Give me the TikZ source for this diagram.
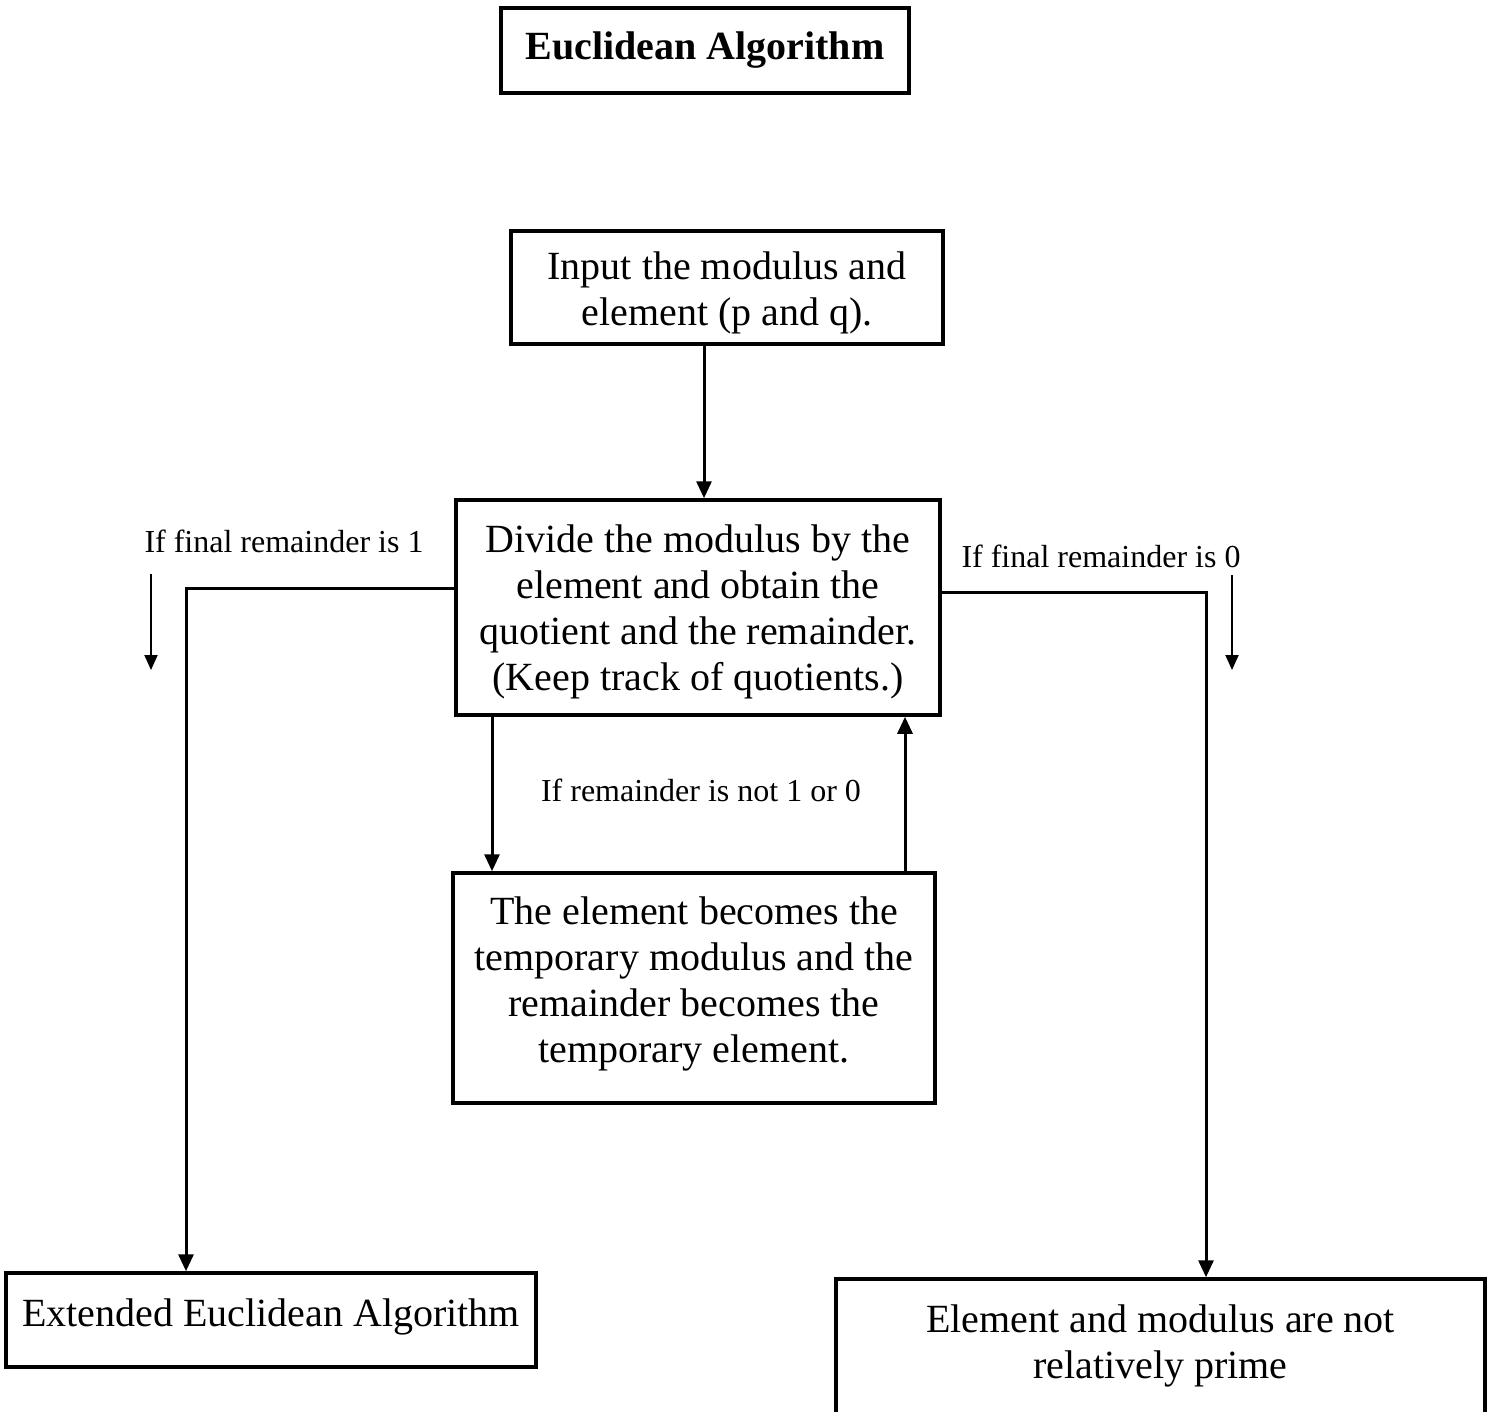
\documentclass[tikz,border=0pt]{standalone}
\usepackage{fontspec}
\setmainfont{Liberation Serif}
\usetikzlibrary{arrows.meta}
\tikzset{
  box/.style={draw, line width=3.5pt, rectangle, inner sep=0pt},
  big/.style={font=\fontsize{40}{46}\selectfont, align=center, inner sep=0pt},
  small/.style={font=\fontsize{32}{37}\selectfont, inner sep=0pt},
  conn/.style={line width=3pt, -{Triangle[width=15pt,length=17pt]}},
  hint/.style={line width=2pt, -{Triangle[width=13pt,length=15pt]}},
}
\begin{document}
\begin{tikzpicture}[x=1pt, y=-1pt]
\useasboundingbox (0,0) rectangle (1495,1412);
\node[box, minimum width=408pt, minimum height=85pt, font=\bfseries\fontsize{40}{46}\selectfont] (title) at (705,50.5) {Euclidean Algorithm};
\node[box, minimum width=432pt, minimum height=113pt] (inp) at (727,287.5) {};
\node[big] (inpt) at (727,292.5) {Input the modulus and\\element (p and q).};
\node[box, minimum width=484pt, minimum height=215pt] (div) at (698,607.5) {};
\node[big] (divt) at (698,611.5) {Divide the modulus by the\\element and obtain the\\quotient and the remainder.\\(Keep track of quotients.)};
\node[box, minimum width=482pt, minimum height=230pt] (tmp) at (694,988) {};
\node[big] (tmpt) at (694,984) {The element becomes the\\temporary modulus and the\\remainder becomes the\\temporary element.};
\node[box, minimum width=530pt, minimum height=94pt] (ext) at (271,1320) {};
\node[big] (extt) at (271,1317) {Extended Euclidean Algorithm};
\node[box, minimum width=649pt, minimum height=136pt] (rp) at (1160.5,1347) {};
\node[big] (rpt) at (1160.5,1346) {Element and modulus are not\\relatively prime};

\coordinate (c1) at (704,0);
\coordinate (xd) at (492,0);
\coordinate (xu) at (905,0);
\coordinate (lc) at (186,588);
\coordinate (rc) at (1206,592);
\draw[conn] (inp.south -| c1) -- (div.north -| c1);
\draw[conn] (div.south -| xd) -- (tmp.north -| xd);
\draw[conn] (tmp.north -| xu) -- (div.south -| xu);
\draw[conn] (div.west |- lc) -- (lc) -- (lc |- ext.north);
\draw[conn] (div.east |- rc) -- (rc) -- (rc |- rp.north);

\coordinate (h1a) at (151,574);
\coordinate (h1b) at (151,670);
\coordinate (h2a) at (1232,575);
\coordinate (h2b) at (1232,670);
\draw[hint] (h1a) -- (h1b);
\draw[hint] (h2a) -- (h2b);

\node[small] (l1) at (284,541) {If final remainder is 1};
\node[small] (l0) at (1101,556) {If final remainder is 0};
\node[small] (lm) at (701,790) {If remainder is not 1 or 0};
\end{tikzpicture}
\end{document}
